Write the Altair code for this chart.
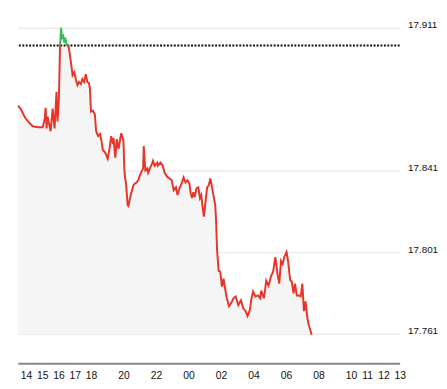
import altair as alt
import pandas as pd

# hours after 14:00 (day 1)
hours = [-0.48, -0.30, -0.06, 0.18, 0.42, 0.73, 1.03, 1.15, 1.21, 1.27, 1.33, 1.39, 1.52, 1.64, 1.76, 1.88, 1.94, 2.02,
         2.10, 2.16, 2.22, 2.30, 2.36, 2.42, 2.50, 2.62, 2.77, 2.87, 2.97, 3.07, 3.17, 3.27, 3.38, 3.47, 3.58, 3.68,
         3.78, 3.88, 3.94, 4.00, 4.12, 4.24, 4.32, 4.44, 4.56, 4.65, 4.73, 4.89, 5.03, 5.15, 5.25, 5.35, 5.39, 5.50,
         5.59, 5.70, 5.86, 5.96, 6.00, 6.06, 6.10, 6.16, 6.26, 6.30, 6.36, 6.47, 6.50, 6.61, 6.71, 6.81, 6.91, 7.01,
         7.11, 7.21, 7.25, 7.35, 7.47, 7.52, 7.62, 7.76, 7.82, 7.92, 8.08, 8.12, 8.28, 8.42, 8.53, 8.68, 8.83, 8.97,
         9.09, 9.23, 9.33, 9.45, 9.58, 9.70, 9.82, 9.94, 10.06, 10.14, 10.22, 10.30, 10.38, 10.50, 10.61, 10.71, 10.79,
         10.87, 10.95, 11.05, 11.15, 11.25, 11.35, 11.45, 11.56, 11.65, 11.70, 11.76, 11.86, 11.96, 12.06, 12.16,
         12.26, 12.36, 12.50, 12.62, 12.77, 12.91, 13.07, 13.23, 13.38, 13.52, 13.64, 13.78, 13.88, 13.98, 14.12,
         14.28, 14.42, 14.48, 14.65, 14.79, 14.93, 15.09, 15.21, 15.35, 15.50, 15.59, 15.70, 15.80, 15.90, 16.04,
         16.14, 16.26, 16.36, 16.47, 16.56, 16.67, 16.81, 16.91, 17.01, 17.11, 17.21, 17.32, 17.41, 17.52, 17.58]

prices = [17.8728, 17.8709, 17.8670, 17.8646, 17.8627, 17.8622, 17.8622, 17.8661, 17.8718, 17.8617, 17.8675, 17.8651,
          17.8603, 17.8714, 17.8617, 17.8796, 17.8651, 17.8747, 17.9022, 17.9110, 17.9061, 17.9070, 17.9037, 17.9061,
          17.9027, 17.9022, 17.8940, 17.8877, 17.8892, 17.8858, 17.8829, 17.8844, 17.8834, 17.8858, 17.8844, 17.8882,
          17.8844, 17.8839, 17.8810, 17.8699, 17.8704, 17.8685, 17.8603, 17.8579, 17.8588, 17.8555, 17.8511, 17.8497,
          17.8468, 17.8521, 17.8579, 17.8540, 17.8569, 17.8473, 17.8564, 17.8516, 17.8593, 17.8569, 17.8555, 17.8410,
          17.8376, 17.8347, 17.8241, 17.8237, 17.8256, 17.8299, 17.8304, 17.8338, 17.8347, 17.8352, 17.8362, 17.8386,
          17.8405, 17.8420, 17.8530, 17.8410, 17.8420, 17.8400, 17.8420, 17.8444, 17.8458, 17.8434, 17.8449, 17.8434,
          17.8449, 17.8434, 17.8400, 17.8381, 17.8371, 17.8362, 17.8314, 17.8328, 17.8290, 17.8323, 17.8347, 17.8376,
          17.8352, 17.8362, 17.8347, 17.8299, 17.8275, 17.8304, 17.8280, 17.8323, 17.8328, 17.8275, 17.8290, 17.8232,
          17.8184, 17.8256, 17.8328, 17.8338, 17.8371, 17.8328, 17.8280, 17.8241, 17.8169, 17.8024, 17.7918, 17.7914,
          17.7841, 17.7880, 17.7832, 17.7784, 17.7745, 17.7759, 17.7784, 17.7793, 17.7750, 17.7774, 17.7735, 17.7721,
          17.7697, 17.7726, 17.7784, 17.7817, 17.7793, 17.7798, 17.7784, 17.7822, 17.7784, 17.7870, 17.7846, 17.7894,
          17.7913, 17.7986, 17.7894, 17.7856, 17.7967, 17.7952, 17.7986, 17.8010, 17.7962, 17.7874, 17.7865, 17.7808,
          17.7856, 17.7798, 17.7798, 17.7793, 17.7856, 17.7721, 17.7769, 17.7687, 17.7653, 17.7624, 17.7605]

prev_close = 17.9023
y_ticks = [17.761, 17.801, 17.841, 17.911]
x_ticks = [0, 1, 2, 3, 4, 6, 8, 10, 12, 14, 16, 18, 20, 21, 22, 23]
y_min, y_max = 17.761, 17.911

df = pd.DataFrame({"h": hours, "p": prices})
df["base"] = y_min

RED = "#e8352b"
GREEN = "#3dba5c"

frac = (max(prices) - prev_close) / (max(prices) - min(prices))

xs = alt.Scale(domain=[-0.5, 23], nice=False, zero=False)
ys = alt.Scale(domain=[y_min, y_max], nice=False, zero=False)

hr = "((datum.value + 14) % 24)"
x_axis = alt.Axis(
    values=x_ticks, title=None, grid=False, ticks=False, offset=30,
    domainColor="#888888", domainWidth=2, labelFontSize=10.5, labelColor="#111111",
    labelFont="Liberation Sans", labelPadding=7, labelFlush=False, labelOverlap=False,
    labelBound=False, labelExpr=f"{hr} < 10 ? '0' + {hr} : '' + {hr}")

y_axis = alt.Axis(
    orient="right", values=y_ticks, title=None, ticks=False, domain=False,
    grid=True, gridColor="#ebebeb", gridWidth=1.5, labelFontSize=10, labelColor="#111111",
    labelFont="Liberation Sans", labelPadding=8, labelBaseline="alphabetic", labelFlush=False,
    labelOverlap=False, format=".3f")

x_enc = alt.X("h:Q", scale=xs, axis=x_axis)
y_enc = alt.Y("p:Q", scale=ys, axis=y_axis)

area = alt.Chart(df).mark_area(color="#f5f5f5").encode(
    x=x_enc, y=y_enc, y2="base:Q")

line = alt.Chart(df).mark_line(
    strokeWidth=2,
    color=alt.Gradient(gradient="linear", x1=0, x2=0, y1=0, y2=1,
                       stops=[alt.GradientStop(color=GREEN, offset=0),
                              alt.GradientStop(color=GREEN, offset=frac),
                              alt.GradientStop(color=RED, offset=frac),
                              alt.GradientStop(color=RED, offset=1)])
).encode(x=x_enc, y=y_enc)

ref = alt.Chart(pd.DataFrame({"v": [prev_close]})).mark_rule(
    color="#111111", strokeWidth=2, strokeDash=[2, 1.5]
).encode(y=alt.Y("v:Q", scale=ys, axis=y_axis))

chart = alt.layer(area, ref, line).properties(
    width=388, height=311,
    autosize=alt.AutoSizeParams(type="none"),
    padding={"left": 10, "top": 17, "right": 40, "bottom": 50},
).configure_view(stroke=None)

chart.save("out.html", embed_options={"renderer": "svg", "actions": False})
